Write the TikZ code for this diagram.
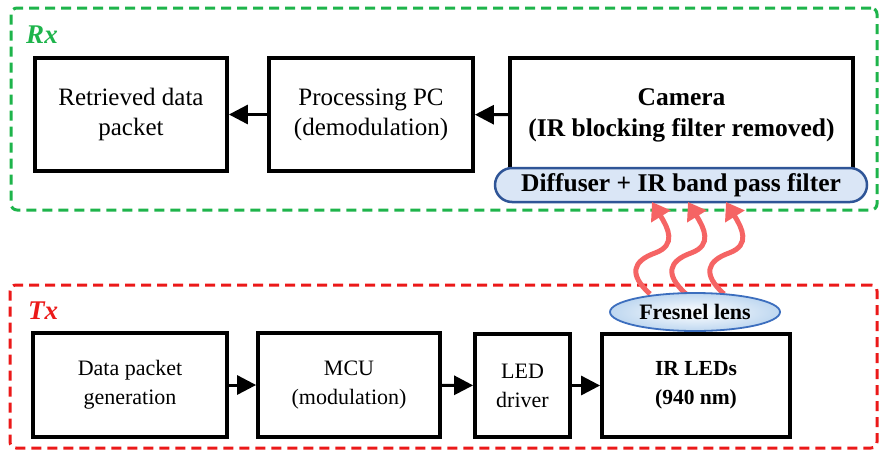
\documentclass[tikz,border=0pt]{standalone}
\usepackage{fontspec}
\setmainfont{Liberation Serif}
\usetikzlibrary{arrows.meta,shapes.geometric}
\definecolor{rxgreen}{RGB}{30,180,75}
\definecolor{txred}{RGB}{235,25,25}
\definecolor{wavered}{RGB}{245,100,100}
\definecolor{difffill}{RGB}{218,230,246}
\definecolor{diffdraw}{RGB}{47,85,151}
\definecolor{lensdraw}{RGB}{60,110,190}
\definecolor{lensfill}{RGB}{190,215,240}
\begin{document}
\begin{tikzpicture}[x=1pt,y=-1pt,
  container/.style={draw, line width=3pt, dash pattern=on 10pt off 6pt, rounded corners=6pt, inner sep=0pt},
  blk/.style={draw, line width=3.8pt, fill=white, inner sep=0pt, align=center, font=\fontsize{25}{30}\selectfont},
  txblk/.style={blk, font=\fontsize{22}{29}\selectfont},
  flow/.style={line width=3pt, -{Triangle[length=19pt,width=19pt]}},
  wave/.style={wavered, line width=5pt, -{Triangle[length=17pt,width=22pt]}},
  grplabel/.style={font=\fontsize{27}{30}\selectfont\bfseries\itshape, inner sep=0pt}]
\useasboundingbox (0,0) rectangle (885,461);
% containers
\node[container, draw=rxgreen, minimum width=866pt, minimum height=202pt] (rx) at (444,109) {};
\node[container, draw=txred, minimum width=867pt, minimum height=163pt] (tx) at (443.5,366.5) {};
\node[grplabel, text=rxgreen] (rxl) at (42,35) {Rx};
\node[grplabel, text=txred] (txl) at (43,311) {Tx};
% Rx blocks
\node[blk, minimum width=192pt, minimum height=113pt] (ret) at (131,114.5) {Retrieved data\\packet};
\node[blk, minimum width=204pt, minimum height=113pt] (pc) at (371,114.5) {Processing PC\\(demodulation)};
\node[blk, minimum width=343pt, minimum height=114pt, font=\fontsize{25.5}{31}\selectfont\bfseries] (cam) at (681.5,115) {Camera\\(IR blocking filter removed)};
\node[draw=diffdraw, fill=difffill, line width=2.5pt, rounded corners=17pt, minimum width=372pt, minimum height=34pt, inner sep=0pt, font=\fontsize{25.5}{26}\selectfont\bfseries] (dif) at (681,185) {Diffuser + IR band pass filter};
\draw[flow] (cam) -- (pc);
\draw[flow] (pc) -- (ret);
% Tx blocks
\node[txblk, minimum width=194pt, minimum height=104pt] (dpg) at (130,385) {Data packet\\generation};
\node[txblk, minimum width=182pt, minimum height=104pt] (mcu) at (349,385) {MCU\\(modulation)};
\node[txblk, minimum width=95pt, minimum height=103pt] (drv) at (522.5,385.5) {LED\\driver};
\node[txblk, minimum width=188pt, minimum height=103pt, font=\fontsize{21.5}{29}\selectfont\bfseries] (led) at (696,385.5) {IR LEDs\\(940 nm)};
\draw[flow] (dpg) -- (mcu);
\draw[flow] (mcu) -- (drv);
\draw[flow] (drv) -- (led);
% IR waves
\foreach \i/\dx in {1/0,2/36,3/74}{
  \coordinate (ws\i) at (650+\dx,294);
  \coordinate (wm\i) at (655+\dx,253);
  \coordinate (we\i) at (652+\dx,202);
  \draw[wave] (ws\i) .. controls +(-22,-20) and +(-22,8) .. (wm\i) .. controls +(22,-8) and +(16,26) .. (we\i);
}
% Fresnel lens
\node[ellipse, draw=lensdraw, line width=1.8pt, inner color=white, outer color=lensfill, minimum width=170pt, minimum height=38pt, inner sep=0pt, font=\fontsize{22}{24}\selectfont\bfseries] (lens) at (695,312) {Fresnel lens};
\end{tikzpicture}
\end{document}
